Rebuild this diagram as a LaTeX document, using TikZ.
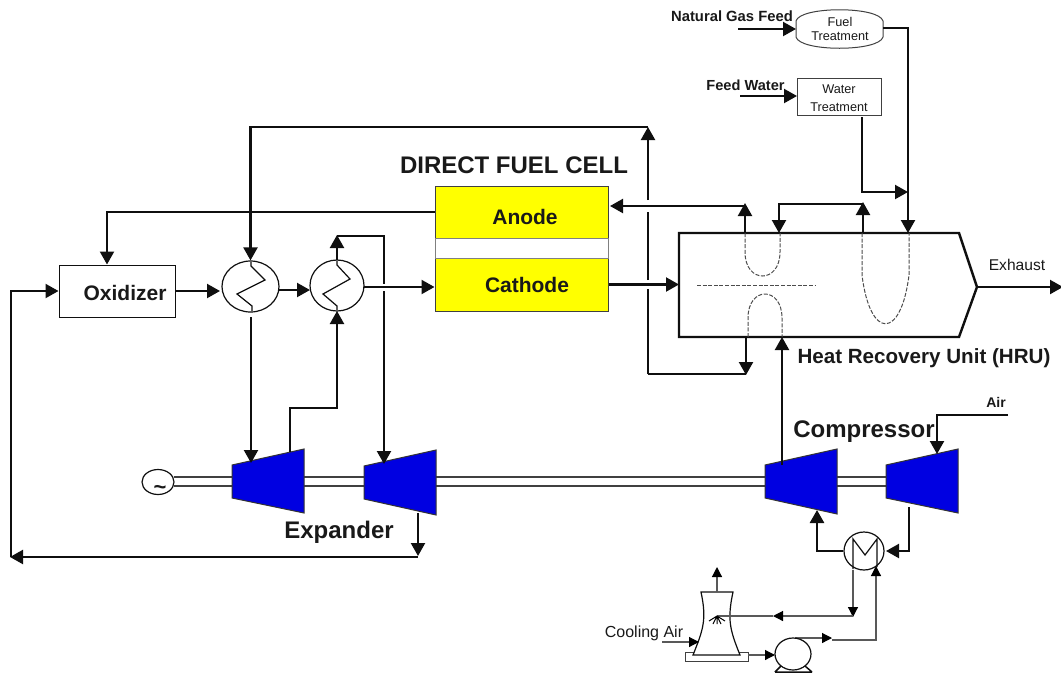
\documentclass[tikz,border=0pt]{standalone}
\usepackage{fontspec}
\setmainfont{Liberation Sans}
\usetikzlibrary{arrows.meta,shapes.geometric,calc}
\definecolor{cellyellow}{RGB}{255,255,0}
\definecolor{turboblue}{RGB}{0,0,225}
\definecolor{ink}{RGB}{15,15,15}
\tikzset{
  x=1pt,y=-1pt,
  flow/.style={draw=ink,line width=2.2pt,-{Triangle[length=13pt,width=14pt]}},
  plain/.style={draw=ink,line width=2.2pt},
  thin flow/.style={draw=black!65,line width=1.2pt,-{Triangle[length=10pt,width=10pt,color=black]}},
  thin plain/.style={draw=black!65,line width=1.2pt},
  hidden/.style={draw=black!70,line width=1pt,dash pattern=on 4pt off 1.6pt},
  vessel/.style={draw=ink,line width=1.2pt,fill=white,ellipse,inner sep=0pt,minimum width=#1},
  machine/.style={draw=black!80,line width=1pt,fill=turboblue},
  shaft/.style={draw=black!75,line width=1.5pt},
  cell/.style={draw=black!75,line width=1pt,fill=cellyellow,minimum width=173pt,inner sep=0pt},
  lab/.style={inner sep=0pt,text=black!90},
  big/.style={lab,font=\fontsize{21}{24}\selectfont\bfseries},
  huge label/.style={lab,font=\fontsize{24}{26}\selectfont\bfseries},
}
\begin{document}
\begin{tikzpicture}
\useasboundingbox (0,0) rectangle (1061,673);
% Coordinates
\coordinate (tee) at (648,127);
\coordinate (teeb) at (648,374);
% HRU
\draw[draw=ink,line width=2.4pt,fill=white] (679,233) -- (959,233) -- (977,287) -- (959,337) -- (679,337) -- cycle;
\coordinate (hruL) at (679,284.5);
\coordinate (hruTip) at (977,287);
% Dashed tubes
\draw[hidden] (745,233) -- (745,252) .. controls (745,284) and (780,284) .. (780,252) -- (780,233);
\draw[hidden] (697,285) -- (816,285);
\draw[hidden] (748,337) -- (748,318) .. controls (748,286) and (782,286) .. (782,318) -- (782,337);
\draw[hidden] (862,233) -- (862,275) .. controls (870,340) and (901,340) .. (909,275) -- (909,233);
% Fuel cell
\node[cell,minimum height=52pt] (anode) at (521.5,212) {};
\node[cell,minimum height=53pt] (cathode) at (521.5,284.5) {};
\node[draw=black!50,line width=1pt,minimum width=173pt,minimum height=20pt,inner sep=0pt] (gap) at (521.5,248) {};
\node[big] (anodel) at (525,217) {Anode};
\node[big] (cathodel) at (527,285) {Cathode};
\node[huge label] (dfc) at (514,165) {DIRECT FUEL CELL};
% Oxidizer
\node[draw=ink,line width=1pt,fill=white,minimum width=116pt,minimum height=52pt,inner sep=0pt] (ox) at (117,291) {};
\node[big] (oxl) at (125,293) {Oxidizer};
% Heat exchangers
\node[vessel=57pt,minimum height=51pt] (hxa) at (250.5,286.5) {};
\node[vessel=54pt,minimum height=51pt] (hxb) at (337,285.5) {};
\draw[draw=ink,line width=1.2pt] (251,262) -- (251,266) -- (265,280) -- (237,294) -- (252,306) -- (252,311);
\draw[draw=ink,line width=1.2pt] (337,261) -- (337,265) -- (350,279) -- (323,294) -- (337,306) -- (337,310);
\node[vessel=40pt,minimum height=38pt] (hxc) at (864,551) {};
\draw[draw=ink,line width=1.2pt] (853,569) -- (853,539) -- (865,555) -- (877,539) -- (877,567);
\coordinate (c1) at (hxa.north |- tee);
% Generator
\node[vessel=32pt,minimum height=25pt] (gen) at (158,482) {};
\node[lab,font=\fontsize{22}{22}\selectfont\bfseries] (tilde) at (160,490) {\textasciitilde};
% Shafts
\foreach \a/\b in {174/232,304/364,436/765,837/886}{
  \draw[shaft] (\a,477) -- (\b,477);
  \draw[shaft] (\a,486) -- (\b,486);
}
% Machines
\draw[machine] (232,465) -- (304,449) -- (304,513) -- (232,498) -- cycle;
\draw[machine] (364,466) -- (436,450) -- (436,515) -- (364,499) -- cycle;
\draw[machine] (765,465) -- (837,449) -- (837,514) -- (765,498) -- cycle;
\draw[machine] (886,465) -- (958,449) -- (958,513) -- (886,498) -- cycle;
% Fuel treatment
\node[lab,align=center,font=\fontsize{12.7}{14}\selectfont] (fuel) at (840,29) {Fuel\\Treatment};
\draw[draw=black!75,line width=1pt] (796,21) .. controls (800,6) and (879,6) .. (883,21) -- (883,37) .. controls (879,52) and (800,52) .. (796,37) -- cycle;
\node[draw=black!75,line width=1pt,minimum width=84pt,minimum height=37pt,inner sep=0pt] (water) at (839,96.5) {};
\node[lab,align=center,font=\fontsize{12.7}{17.5}\selectfont] (waterl) at (839,98) {Water\\Treatment};
\node[lab,font=\fontsize{14.8}{15}\selectfont\bfseries] (ngl) at (732,16) {Natural Gas Feed};
\node[lab,font=\fontsize{14.6}{15}\selectfont\bfseries] (fwl) at (745.5,85) {Feed Water};
\coordinate (ngs) at (738,29);
\coordinate (fws) at (740,96);
\coordinate (fuelR) at (883,28);
\coordinate (j1) at (908,28);
\coordinate (j2) at (908,192);
\coordinate (hruF) at (908,233);
\draw[flow] (ngs) -- (796,29);
\draw[flow] (fws) -- (797,96);
\draw[flow] (fuelR) -- (j1) -- (hruF);
\draw[flow] (862,117) -- (862,192) -- (j2);
% Top loop
\draw[plain] (teeb) -- (648,289);
\draw[plain] (648,280) -- (648,212);
\draw[flow] (648,200) -- (tee);
\draw[flow] (tee) -- (c1) -- (hxa.north);
\draw[flow] (745,233) -- (745,203);
\draw[flow] (745,206) -- (610,206);
\draw[flow] (863,233) -- (863,202);
\draw[flow] (863,204) -- (779,204) -- (779,233);
\draw[flow] (746,337) -- (746,375);
\draw[plain] (teeb) -- (746,374);
\draw[flow] (cathode.east) -- (hruL);
\draw[flow] (hruTip) -- (1063,287);
\node[lab,font=\fontsize{15.6}{16}\selectfont] (ex) at (1017,265) {Exhaust};
\node[lab,font=\fontsize{20.6}{22}\selectfont\bfseries] (hrul) at (924,358) {Heat Recovery Unit (HRU)};
% Left side
\draw[flow] (anode.west |- 0,212) -- (107,212) -- (ox.north -| 107,0);
\draw[flow] (ox.east) -- (220,291);
\draw[flow] (279,290) -- (310,290);
\draw[flow] (364,287) -- (cathode.west |- 0,287);
\draw[flow] (337,260) -- (337,235);
\draw[plain] (337,236) -- (384,236) -- (384,284);
\draw[flow] (384,291) -- (384,464);
\draw[flow] (251,317) -- (251,463);
\draw[flow] (290,452) -- (290,408) -- (337,408) -- (337,311);
\draw[flow] (418,513) -- (418,556);
\draw[flow] (418,557) -- (10,557);
\draw[flow] (11,557) -- (11,291) -- (ox.west |- 0,291);
% Compressor
\draw[flow] (782,465) -- (782,337);
\draw[flow] (1008,415) -- (937,415) -- (937,454);
\node[lab,font=\fontsize{14}{14}\selectfont\bfseries] (airl) at (996,402) {Air};
\node[huge label] (compl) at (864,432) {Compressor};
\node[huge label] (expl) at (339,532) {Expander};
\draw[flow] (909,507) -- (909,551) -- (886,551);
\draw[flow,line width=2.6pt] (843,551) -- (817,551) -- (817,510);
% Cooling loop
\draw[thin flow] (853,570) -- (853,617);
\draw[thin flow] (853,616) -- (773,616);
\draw[thin plain] (773,616) -- (717,616);
\draw[thin flow] (795,638) -- (832,638);
\draw[thin flow] (832,640) -- (876,640) -- (876,566);
\draw[draw=black!75,line width=1pt,fill=white] (685,652) rectangle (748,661);
\draw[draw=ink,line width=1.2pt,fill=white] (701,592) -- (733,592) .. controls (727,620) and (730,630) .. (740,655) -- (693,655) .. controls (703,630) and (707,620) .. (701,592) -- cycle;
\draw[thin flow] (717,592) -- (717,567);
\node[lab,font=\fontsize{16}{16}\selectfont] (cool) at (644,633) {Cooling Air};
\draw[thin flow] (662,642) -- (699,642);
\draw[thin flow] (748,655) -- (775,655);
\draw[thin plain] (717,616) -- (733,616);
\draw[draw=black,line width=1pt] (717,616) -- (709,621) (717,616) -- (713,624) (717,616) -- (717,624) (717,616) -- (721,624) (717,616) -- (725,621);
\node[vessel=36pt,minimum height=32pt] (pump) at (793,654) {};
\begin{scope}
\clip (760,660) rectangle (830,673);
\draw[draw=ink,line width=1.5pt] (775,672) -- (781,666) (805,666) -- (812,672) (775,672) -- (812,672);
\end{scope}
\end{tikzpicture}
\end{document}
